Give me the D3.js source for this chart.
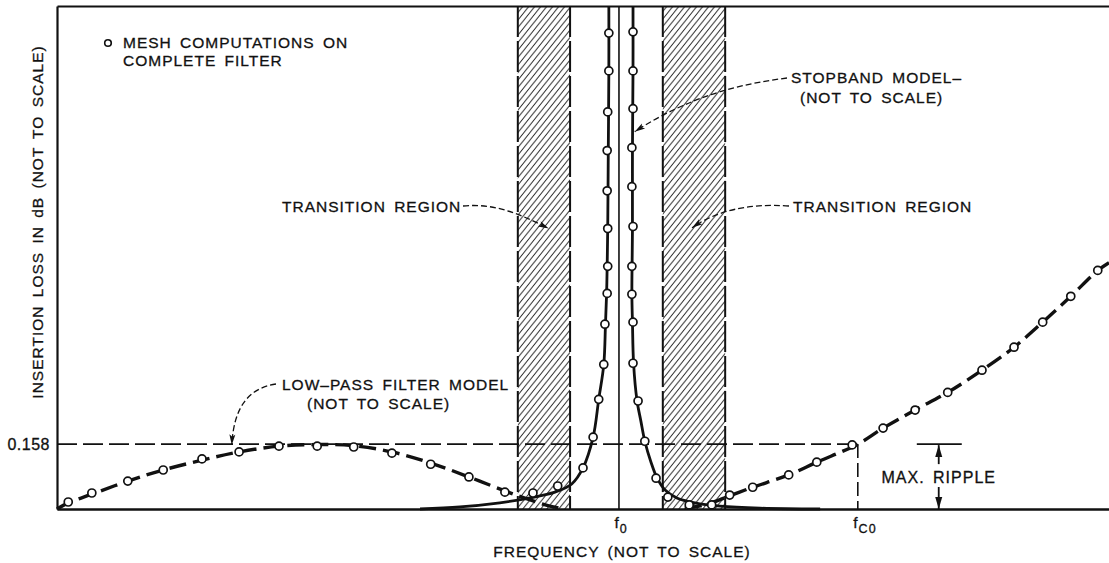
<!DOCTYPE html>
<html>
<head>
<meta charset="utf-8">
<script src="https://cdn.jsdelivr.net/npm/d3@7"></script>
<style>
  html, body { margin: 0; padding: 0; background: #fff; }
  svg { display: block; }
  text {
    font-family: "Liberation Sans", Arial, Helvetica, sans-serif;
    font-size: 15.5px;
    fill: #111;
    stroke: #111;
    stroke-width: 0.3px;
    letter-spacing: 1px;
    word-spacing: 3px;
  }
</style>
</head>
<body>
<svg id="chart" width="1109" height="563"></svg>
<script>
// Frequency is normalized to f0 (f/f0); insertion loss in dB. Neither axis is to scale.

// Low-pass filter model (dashed), below and above the stopband
const lowPassLeft = [
  [0.000, 0.000], [0.020, 0.015], [0.062, 0.036], [0.126, 0.068], [0.189, 0.095],
  [0.258, 0.119], [0.324, 0.139], [0.395, 0.153], [0.464, 0.157], [0.528, 0.154],
  [0.596, 0.139], [0.665, 0.112], [0.733, 0.078], [0.797, 0.044], [0.842, 0.022],
  [0.877, 0.007], [0.904, 0.000]
];
const lowPassRight = [
  [1.117, 0.002], [1.153, 0.010], [1.197, 0.032], [1.238, 0.053], [1.302, 0.083],
  [1.352, 0.114], [1.425, 0.158], [1.470, 0.197], [1.527, 0.241], [1.585, 0.284],
  [1.646, 0.338], [1.703, 0.394], [1.754, 0.455], [1.804, 0.518], [1.852, 0.581],
  [1.872, 0.600]
];

// Stopband model (solid), the two skirts either side of f0
const stopbandLeft = [
  [0.646, 0.000], [0.717, 0.005], [0.788, 0.015], [0.842, 0.027], [0.886, 0.041],
  [0.916, 0.061], [0.936, 0.100], [0.954, 0.175], [0.964, 0.267], [0.973, 0.352],
  [0.976, 0.450], [0.978, 0.525], [0.979, 0.591], [0.980, 0.683], [0.981, 0.873],
  [0.982, 1.067], [0.982, 1.225]
];
const stopbandRight = [
  [1.025, 1.225], [1.025, 1.067], [1.024, 0.873], [1.024, 0.683], [1.023, 0.523],
  [1.024, 0.455], [1.026, 0.355], [1.032, 0.265], [1.039, 0.214], [1.046, 0.165],
  [1.057, 0.114], [1.068, 0.075], [1.082, 0.046], [1.103, 0.027], [1.135, 0.015],
  [1.180, 0.007], [1.251, 0.002], [1.358, 0.000]
];

// Mesh computations on the complete filter
const meshF = [
  0.020, 0.062, 0.126, 0.189, 0.258, 0.324, 0.395, 0.463, 0.528, 0.596, 0.665, 0.733, 0.797,
  0.847, 0.891, 0.936, 0.954, 0.964, 0.973, 0.975, 0.979, 0.980, 0.980, 0.979, 0.979, 0.980, 0.982, 0.982,
  1.025, 1.025, 1.025, 1.023, 1.023, 1.025, 1.023, 1.023, 1.025, 1.025, 1.034, 1.046, 1.066, 1.087, 1.125, 1.165,
  1.197, 1.238, 1.302, 1.352, 1.415, 1.470, 1.527, 1.585, 1.646, 1.703, 1.754, 1.804, 1.852
];
const meshDb = [
  0.017, 0.039, 0.068, 0.095, 0.122, 0.139, 0.153, 0.153, 0.151, 0.136, 0.109, 0.078, 0.041,
  0.039, 0.056, 0.100, 0.175, 0.267, 0.352, 0.450, 0.525, 0.591, 0.683, 0.775, 0.873, 0.967, 1.067, 1.159,
  1.162, 1.067, 0.975, 0.880, 0.785, 0.688, 0.591, 0.523, 0.455, 0.355, 0.263, 0.165, 0.075, 0.029, 0.010, 0.010,
  0.034, 0.053, 0.083, 0.114, 0.156, 0.197, 0.241, 0.284, 0.338, 0.394, 0.455, 0.518, 0.581
];

// Transition regions [from, to] in f/f0
const transitionBands = [[0.820, 0.913], [1.078, 1.189]];

// Reference values and tick labels
const rippleDb = 0.158;
const f0 = 1.0;
const fc0 = 1.425;
const rippleMarkerF = 1.569;
const rippleBarF = [1.530, 1.610];
const freqTicks = [f0, fc0];
const freqTickLabels = [["f", "0"], ["f", "C0"]];
const lossTicks = [rippleDb];

const svg = d3.select("#chart");
const W = 1109;
const margin = { left: 57, right: 0, top: 6, bottom: 54 };
const H = 563;

const x = d3.scaleLinear().domain([0, 1.872]).range([margin.left, W - margin.right]);
const y = d3.scaleLinear().domain([0, 1.225]).range([H - margin.bottom, margin.top]);

const defs = svg.append("defs");

// Diagonal hatching for the transition regions
const hatch = defs.append("pattern")
  .attr("id", "hatch")
  .attr("patternUnits", "userSpaceOnUse")
  .attr("width", 6).attr("height", 7.5);
hatch.append("path")
  .attr("d", "M-1.5,1.875 L1.5,-1.875 M0,7.5 L6,0 M4.5,9.375 L7.5,5.625")
  .attr("stroke", "#222").attr("stroke-width", 1).attr("fill", "none");

// Arrowheads for the leaders
defs.append("marker")
  .attr("id", "arrowhead")
  .attr("viewBox", "0 0 12 8")
  .attr("refX", 12).attr("refY", 4)
  .attr("markerWidth", 13).attr("markerHeight", 7)
  .attr("markerUnits", "userSpaceOnUse")
  .attr("orient", "auto")
  .append("path").attr("d", "M0,0.6 L12,4 L0,7.4 L2.5,4 Z").attr("fill", "#111");

defs.append("marker")
  .attr("id", "ripplehead")
  .attr("viewBox", "0 0 12 8")
  .attr("refX", 12).attr("refY", 4)
  .attr("markerWidth", 13).attr("markerHeight", 8)
  .attr("markerUnits", "userSpaceOnUse")
  .attr("orient", "auto")
  .append("path").attr("d", "M0,0.5 L12,4 L0,7.5 Z").attr("fill", "#111");

// Transition regions
const bands = svg.append("g");
transitionBands.forEach(([a, b]) => {
  bands.append("rect")
    .attr("x", x(a)).attr("y", y.range()[1])
    .attr("width", x(b) - x(a)).attr("height", y(0) - y.range()[1])
    .attr("fill", "url(#hatch)");
  [a, b].forEach(v => {
    bands.append("line")
      .attr("x1", x(v)).attr("x2", x(v))
      .attr("y1", y.range()[1]).attr("y2", y(0))
      .attr("stroke", "#111").attr("stroke-width", 2)
      .attr("stroke-dasharray", "31,4");
  });
});

// Ripple level line and fc0 drop line
svg.append("line")
  .attr("x1", x(0)).attr("x2", x(fc0))
  .attr("y1", y(rippleDb)).attr("y2", y(rippleDb))
  .attr("stroke", "#111").attr("stroke-width", 1.6)
  .attr("stroke-dasharray", "20,6");
svg.append("line")
  .attr("x1", x(fc0)).attr("x2", x(fc0))
  .attr("y1", y(rippleDb)).attr("y2", y(0))
  .attr("stroke", "#111").attr("stroke-width", 1.6)
  .attr("stroke-dasharray", "14,5");

// f0 line
svg.append("line")
  .attr("x1", x(f0)).attr("x2", x(f0))
  .attr("y1", y.range()[1]).attr("y2", y(0))
  .attr("stroke", "#111").attr("stroke-width", 1.6);

// Axes
const yAxis = svg.append("g")
  .attr("transform", `translate(${x(0)},0)`)
  .call(d3.axisLeft(y).tickValues(lossTicks).tickSize(0).tickSizeOuter(0).tickPadding(7)
    .tickFormat(d3.format(".3f")));
yAxis.attr("font-size", null).attr("font-family", null);
yAxis.select(".domain").attr("stroke", "#111").attr("stroke-width", 2.2);
yAxis.selectAll(".tick text").style("font-size", "16px").style("letter-spacing", "0.5px");

const xAxis = svg.append("g")
  .attr("transform", `translate(0,${y(0)})`)
  .call(d3.axisBottom(x).tickValues(freqTicks).tickSize(0).tickSizeOuter(0).tickPadding(8));
xAxis.attr("font-size", null).attr("font-family", null);
xAxis.select(".domain").attr("stroke", "#111").attr("stroke-width", 2.4);
xAxis.selectAll(".tick text").each(function (d, i) {
  const t = d3.select(this).text(null).attr("text-anchor", "start").attr("dx", -5);
  t.append("tspan").text(freqTickLabels[i][0]);
  t.append("tspan").attr("dy", 5).style("font-size", "12.5px").text(freqTickLabels[i][1]);
});

const topAxis = svg.append("g")
  .attr("transform", `translate(0,${y.range()[1]})`)
  .call(d3.axisTop(x).tickValues([]).tickSizeOuter(0));
topAxis.select(".domain").attr("stroke", "#111").attr("stroke-width", 2.2);

// Model curves
const line = d3.line().x(d => x(d[0])).y(d => y(d[1])).curve(d3.curveCatmullRom.alpha(0.5));

[stopbandLeft, stopbandRight].forEach(s => {
  svg.append("path").datum(s)
    .attr("d", line).attr("fill", "none")
    .attr("stroke", "#111").attr("stroke-width", 2.8);
});
[lowPassLeft, lowPassRight].forEach(s => {
  svg.append("path").datum(s)
    .attr("d", line).attr("fill", "none")
    .attr("stroke", "#111").attr("stroke-width", 3.4)
    .attr("stroke-dasharray", "17,7");
});

// Mesh computation points
svg.append("g").selectAll("circle")
  .data(meshF.map((f, i) => [f, meshDb[i]]))
  .join("circle")
  .attr("cx", d => x(d[0])).attr("cy", d => y(d[1]))
  .attr("r", 4)
  .attr("fill", "#fff").attr("stroke", "#111").attr("stroke-width", 1.7);

// Max ripple marker
svg.append("line")
  .attr("x1", x(rippleBarF[0])).attr("x2", x(rippleBarF[1]))
  .attr("y1", y(rippleDb)).attr("y2", y(rippleDb))
  .attr("stroke", "#111").attr("stroke-width", 1.8);
svg.append("line")
  .attr("x1", x(rippleMarkerF)).attr("x2", x(rippleMarkerF))
  .attr("y1", y(rippleDb) + 20).attr("y2", y(rippleDb) + 1)
  .attr("stroke", "#111").attr("stroke-width", 1.8)
  .attr("marker-end", "url(#ripplehead)");
svg.append("line")
  .attr("x1", x(rippleMarkerF)).attr("x2", x(rippleMarkerF))
  .attr("y1", y(0) - 22).attr("y2", y(0))
  .attr("stroke", "#111").attr("stroke-width", 1.8)
  .attr("marker-end", "url(#ripplehead)");
svg.append("text")
  .attr("x", x(rippleMarkerF)).attr("y", 483)
  .attr("text-anchor", "middle")
  .style("font-size", "16px")
  .text("MAX. RIPPLE");

// Legend
svg.append("circle")
  .attr("cx", 108).attr("cy", 43).attr("r", 3.3)
  .attr("fill", "#fff").attr("stroke", "#111").attr("stroke-width", 1.6);
svg.append("text").attr("x", 123).attr("y", 48).text("MESH COMPUTATIONS ON");
svg.append("text").attr("x", 123).attr("y", 66).text("COMPLETE FILTER");

// Annotations with leaders
const leader = (d) => svg.append("path")
  .attr("d", d).attr("fill", "none")
  .attr("stroke", "#111").attr("stroke-width", 1.3)
  .attr("stroke-dasharray", "6,3")
  .attr("marker-end", "url(#arrowhead)");

svg.append("text").attr("x", 791).attr("y", 83).text("STOPBAND MODEL\u2013");
svg.append("text").attr("x", 800).attr("y", 103).text("(NOT TO SCALE)");
leader(`M787,78 C740,84 690,96 ${x(1.028)},${y(0.919)}`);

svg.append("text").attr("x", 282).attr("y", 212).text("TRANSITION REGION");
leader(`M463,206 C495,203 520,214 ${x(0.875)},${y(0.683)}`);

svg.append("text").attr("x", 793).attr("y", 212).text("TRANSITION REGION");
leader(`M789,206 C745,203 715,212 ${x(1.130)},${y(0.685)}`);

svg.append("text").attr("x", 282).attr("y", 390).text("LOW\u2013PASS FILTER MODEL");
svg.append("text").attr("x", 307).attr("y", 409).text("(NOT TO SCALE)");
leader(`M276,384 C250,388 234,405 ${x(0.311)},${y(0.156)}`);

// Axis titles
svg.append("text")
  .attr("transform", "translate(43,222) rotate(-90)")
  .attr("text-anchor", "middle")
  .text("INSERTION LOSS IN dB (NOT TO SCALE)");
svg.append("text")
  .attr("x", 622).attr("y", 557)
  .attr("text-anchor", "middle")
  .text("FREQUENCY (NOT TO SCALE)");
</script>
</body>
</html>
